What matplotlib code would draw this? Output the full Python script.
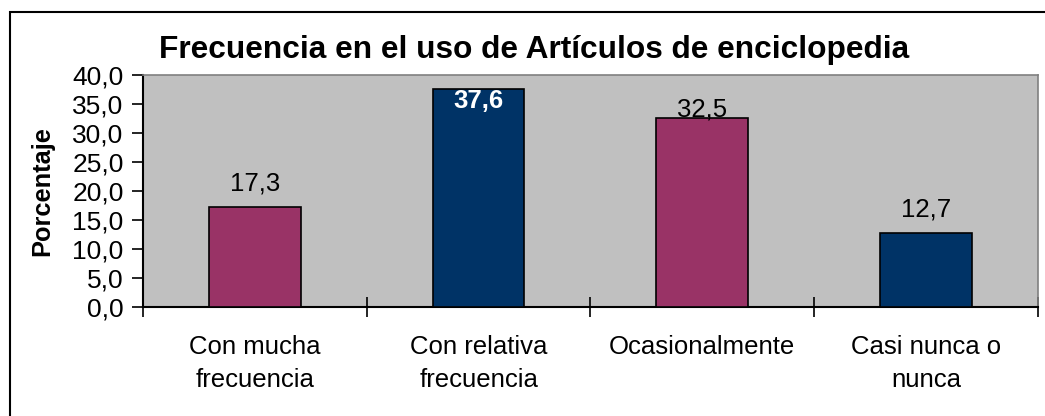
import matplotlib.pyplot as plt
from matplotlib.patches import Rectangle

# data
categories = ['Con mucha\nfrecuencia', 'Con relativa\nfrecuencia', 'Ocasionalmente', 'Casi nunca o\nnunca']
values = [17.3, 37.6, 32.5, 12.7]
bar_colors = ['#993366', '#003366', '#993366', '#003366']
y_ticks = [0, 5, 10, 15, 20, 25, 30, 35, 40]

plt.rcParams['font.family'] = ['Liberation Sans', 'DejaVu Sans']

fig = plt.figure(figsize=(10.45, 4.16), dpi=100)
ax = fig.add_axes([0.1368, 0.262, 0.8565, 0.558])

x = list(range(len(values)))
ax.bar(x, values, width=0.41, color=bar_colors, edgecolor='black', linewidth=1.2, zorder=3)
ax.set_facecolor('#C0C0C0')
ax.set_xlim(-0.5, len(values) - 0.5)
ax.set_ylim(0, 40)

# y axis
ax.set_yticks(y_ticks)
ax.set_yticklabels([f"{v:.1f}".replace('.', ',') for v in y_ticks], fontsize=19)
ax.tick_params(axis='y', direction='out', length=8, width=1.2, pad=6)
ax.set_ylabel('Porcentaje', fontsize=18.3, fontweight='bold', labelpad=13)

# x axis: ticks on category boundaries, labels centred
ax.set_xticks([i + 0.5 for i in range(-1, len(values))])
ax.set_xticklabels([])
ax.set_xticks(x, minor=True)
ax.set_xticklabels(categories, minor=True, fontsize=18.5, linespacing=1.5)
ax.tick_params(axis='x', which='major', direction='inout', length=15, width=1.2)
ax.tick_params(axis='x', which='minor', length=0, pad=20)

for side in ['left', 'bottom']:
    ax.spines[side].set_linewidth(1.5)
for side in ['top', 'right']:
    ax.spines[side].set_color('#808080')
    ax.spines[side].set_linewidth(1.2)

# value labels
for i, v in enumerate(values):
    txt = f"{v:.1f}".replace('.', ',')
    if v == max(values):
        ax.text(i, v - 0.1, txt, ha='center', va='top', color='white',
                fontsize=18.5, fontweight='bold', zorder=4)
    elif i == 2:
        ax.text(i, v - 0.6, txt, ha='center', va='bottom', fontsize=18.5, zorder=4)
    else:
        ax.text(i, v + 2.0, txt, ha='center', va='bottom', fontsize=18.5, zorder=4)

fig.text(0.511, 0.88, 'Frecuencia en el uso de Artículos de enciclopedia',
         ha='center', va='center', fontsize=22.8, fontweight='bold')

# outer chart frame (left and top edges visible)
fig.patches.append(Rectangle((0.0096, -0.05), 1.2, 1.021, transform=fig.transFigure,
                             fill=False, edgecolor='black', linewidth=1.5))

plt.savefig('out.png', dpi=100)
